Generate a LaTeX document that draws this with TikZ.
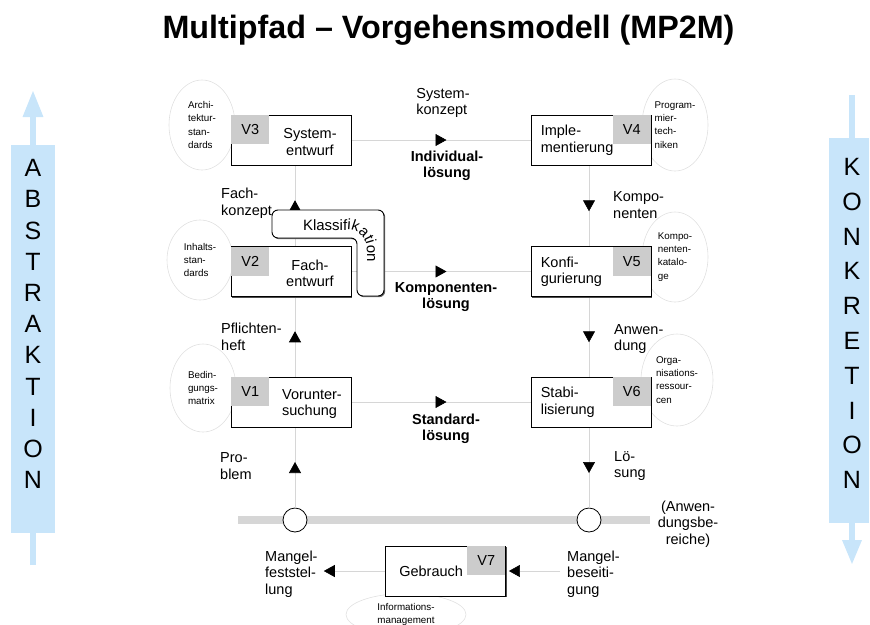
\documentclass[tikz,border=0pt]{standalone}
\usepackage{fontspec}
\setmainfont{Liberation Sans}
\usetikzlibrary{arrows.meta, shapes.geometric, shadows, decorations.markings, decorations.text, positioning}

\definecolor{linegray}{gray}{0.84}
\definecolor{vgray}{gray}{0.80}
\definecolor{ellgray}{gray}{0.88}
\definecolor{abstblue}{RGB}{200,229,250}

\newcommand{\txtfont}{\fontsize{14.5}{16.5}\selectfont}
\newcommand{\ellfont}{\fontsize{9.8}{13.2}\selectfont}

\begin{document}
\begin{tikzpicture}[x=1pt, y=-1pt,
  phase/.style={draw, line width=0.8pt, fill=white, minimum width=120pt, minimum height=50pt, inner sep=0pt,
    drop shadow={shadow xshift=1.2pt, shadow yshift=-1.2pt, fill=black!70, opacity=1}},
  vlab/.style={fill=vgray, minimum width=38pt, minimum height=29pt, inner sep=0pt, font=\txtfont},
  txt/.style={font=\txtfont, align=left, inner sep=0pt},
  btxt/.style={font=\txtfont\bfseries, align=center, inner sep=0pt},
  ell/.style={ellipse, draw=ellgray, line width=0.6pt, font=\ellfont, align=left, inner sep=0pt},
  flow/.style={draw=linegray, line width=0.6pt, postaction={decorate},
    decoration={markings, mark=at position 0.5 with {\arrow[xshift=5.5pt]{Triangle[length=11pt, width=12pt, color=black]}}}},
  cross/.style={circle, draw, line width=0.8pt, fill=white, minimum size=24pt, inner sep=0pt}]
\useasboundingbox (0,0) rectangle (870,624);

% Titel
\node[font=\fontsize{32.3}{36}\selectfont\bfseries, anchor=base, inner sep=0pt] (title) at (448.5,38) {Multipfad – Vorgehensmodell (MP2M)};

% Abstraktion / Konkretion
\draw[abstblue, line width=6pt, -{Triangle[length=27pt, width=19pt]}] (33,565) -- (33,90);
\fill[abstblue] (11,145) rectangle (55,533);
\node[font=\fontsize{25}{31.2}\selectfont, align=center, inner sep=0pt] (abst) at (33,324) {A\\B\\S\\T\\R\\A\\K\\T\\I\\O\\N};
\draw[abstblue, line width=6pt, -{Triangle[length=25pt, width=18pt]}] (852,95) -- (852,565);
\fill[abstblue] (829,138) rectangle (869,523);
\node[font=\fontsize{25}{34.8}\selectfont, align=center, inner sep=0pt] (konk) at (852,323.5) {K\\O\\N\\K\\R\\E\\T\\I\\O\\N};

% Ellipsen
\node[ell, minimum width=66pt, minimum height=90pt] (e3) at (202,125) {Archi-\\tektur-\\stan-\\dards};
\node[ell, minimum width=66pt, minimum height=80pt] (e2) at (200,260) {Inhalts-\\stan-\\dards};
\node[ell, minimum width=66pt, minimum height=88pt] (e1) at (203,388) {Bedin-\\gungs-\\matrix};
\node[ell, minimum width=66pt, minimum height=92pt] (e4) at (675,125) {Program-\\mier-\\tech-\\niken};
\node[ell, minimum width=66pt, minimum height=90pt] (e5) at (675,257) {Kompo-\\nenten-\\katalo-\\ge};
\node[ell, minimum width=72pt, minimum height=92pt] (e6) at (677,380) {Orga-\\nisations-\\ressour-\\cen};
\node[ell, minimum width=120pt, minimum height=42pt] (e7) at (406,614.5) {Informations-\\management};

% Anwendungsbereiche
\draw[linegray, line width=8pt] (238,520) -- (650,520);
\node[cross] (ca) at (295,520) {};
\node[cross] (cb) at (589,520) {};

% Vorgehensschritte
\node[phase] (v3) at (291,140) {};
\node[phase] (v2) at (291,271.5) {};
\node[phase] (v1) at (291,402) {};
\node[phase] (v4) at (591,140) {};
\node[phase] (v5) at (591,271.5) {};
\node[phase] (v6) at (591,402) {};
\node[phase] (v7) at (445.5,571) {};

% Pfade
\draw[flow] (v2.north -| ca) -- (v3.south -| ca);
\draw[flow] (v1.north -| ca) -- (v2.south -| ca);
\draw[flow] (ca.north) -- (v1.south -| ca);
\draw[flow] (v4.south -| cb) -- (v5.north -| cb);
\draw[flow] (v5.south -| cb) -- (v6.north -| cb);
\draw[flow] (v6.south -| cb) -- (cb.north);
\draw[flow] (v3.east) -- (v4.west);
\draw[flow] (v2.east) -- (v5.west);
\draw[flow] (v1.east) -- (v6.west);

% Boxen neu zeichnen
\node[phase] at (v3) {};
\node[phase] at (v2) {};
\node[phase] at (v1) {};
\node[phase] at (v4) {};
\node[phase] at (v5) {};
\node[phase] at (v6) {};

\node[vlab, anchor=north west] (v3l) at ([shift={(0.5,0.5)}]v3.north west) {V3};
\node[vlab, anchor=north west] (v2l) at ([shift={(0.5,0.5)}]v2.north west) {V2};
\node[vlab, anchor=north west] (v1l) at ([shift={(0.5,0.5)}]v1.north west) {V1};
\node[vlab, anchor=north east] (v4l) at ([shift={(-0.5,0.5)}]v4.north east) {V4};
\node[vlab, anchor=north east] (v5l) at ([shift={(-0.5,0.5)}]v5.north east) {V5};
\node[vlab, anchor=north east] (v6l) at ([shift={(-0.5,0.5)}]v6.north east) {V6};
\node[vlab, anchor=north east] (v7l) at ([shift={(-0.5,0.5)}]v7.north east) {V7};

\node[txt, align=center] (v3t) at ([xshift=19pt, yshift=-2pt]v3.center) {System-\\entwurf};
\node[txt, align=center] (v2t) at ([xshift=19pt, yshift=-2pt]v2.center) {Fach-\\entwurf};
\node[txt] (v1t) at ([xshift=21pt, yshift=-2pt]v1.center) {Vorunter-\\suchung};
\node[txt, anchor=west] (v4t) at ([xshift=10pt]v4.west) {Imple-\\mentierung};
\node[txt, anchor=west] (v5t) at ([xshift=10pt]v5.west) {Konfi-\\gurierung};
\node[txt, anchor=west] (v6t) at ([xshift=10pt]v6.west) {Stabi-\\lisierung};
\node[txt, anchor=west] (v7t) at ([xshift=14pt]v7.west) {Gebrauch};

% Klassifikation
\draw[line width=0.9pt, fill=white, rounded corners=6pt,
  drop shadow={shadow xshift=1.2pt, shadow yshift=-1.2pt, fill=black!60, opacity=1}]
  (272,210) -- (384,210) -- (384,296) -- (357,296) -- (357,238) -- (272,238) -- cycle;
\path[decorate, decoration={text along path, text={|\fontsize{15}{17}\selectfont|Klassifikation}}]
  (303,230) -- (347,230) .. controls (359,230) and (367,238) .. (367,251) -- (367,300);

% Texte
\node[txt] (sysk) at (443,103) {System-\\konzept};
\node[btxt] (indiv) at (447,166) {Individual-\\lösung};
\node[txt, anchor=west] (fachk) at (221,203) {Fach-\\konzept};
\node[txt, anchor=west] (kompo) at (613,205) {Kompo-\\nenten};
\node[btxt] (kompl) at (446,297) {Komponenten-\\lösung};
\node[txt, anchor=west] (pflicht) at (221,337) {Pflichten-\\heft};
\node[txt, anchor=west] (anwend) at (614,339) {Anwen-\\dung};
\node[btxt] (standl) at (446,429) {Standard-\\lösung};
\node[txt, anchor=west] (problem) at (220,466) {Pro-\\blem};
\node[txt, anchor=west] (loesung) at (614,466) {Lö-\\sung};
\node[txt, align=center] (anwber) at (688,524) {(Anwen-\\dungsbe-\\reiche)};
\node[txt, anchor=west] (mfest) at (265,574) {Mangel-\\feststel-\\lung};
\node[txt, anchor=west] (mbes) at (567,574) {Mangel-\\beseiti-\\gung};

% Gebrauch
\draw[linegray, line width=0.6pt, shorten <=7pt, shorten >=3pt, -{Triangle[length=11pt, width=12pt, color=black]}] (mbes.west |- v7.east) -- (v7.east);
\draw[linegray, line width=0.6pt, shorten >=6pt, -{Triangle[length=11pt, width=12pt, color=black]}] (v7.west) -- (mfest.east |- v7.west);
\end{tikzpicture}
\end{document}
